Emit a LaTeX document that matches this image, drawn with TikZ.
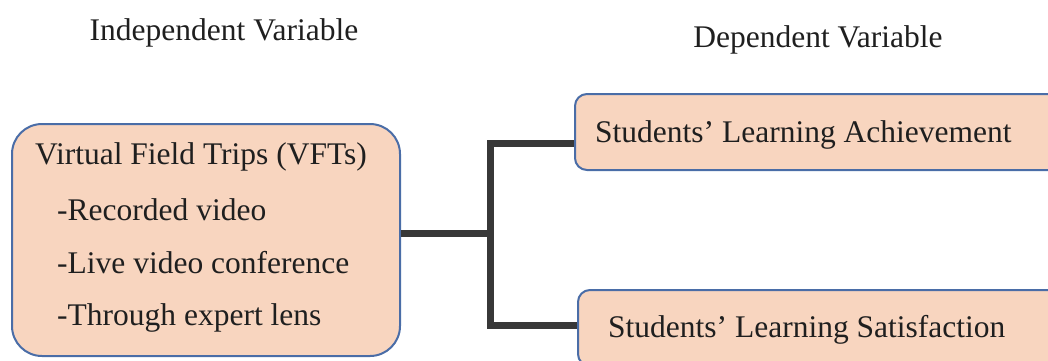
\documentclass[tikz,border=0pt]{standalone}
\usepackage{fontspec}
\setmainfont{Liberation Serif}
\newfontfamily\diagfont{Liberation Serif}
\definecolor{boxfill}{HTML}{F8D5BF}
\definecolor{boxline}{HTML}{4A6DA7}
\definecolor{linkgray}{HTML}{383838}
\begin{document}
\begin{tikzpicture}[x=1pt,y=-1pt,
    varbox/.style={draw=boxline,line width=2pt,fill=boxfill,inner sep=0pt},
    link/.style={draw=linkgray,line width=7pt},
    lbl/.style={anchor=west,inner sep=0pt,text=black!88,font=\diagfont\fontsize{31.5}{36}\selectfont}]
\useasboundingbox (0,0) rectangle (1048,360);
\clip (0,0) rectangle (1048,360);
\node[lbl,anchor=center] (IVh) at (224,33) {Independent Variable};
\node[lbl,anchor=center] (DVh) at (818,40) {Dependent Variable};
\node[varbox,rounded corners=30pt,minimum width=388pt,minimum height=232pt] (IV) at (206,240) {};
\node[varbox,rounded corners=12pt,minimum width=490pt,minimum height=76pt] (DV1) at (820,132) {};
\node[varbox,rounded corners=12pt,minimum width=490pt,minimum height=76pt] (DV2) at (823,328) {};
\node[lbl] (IV0) at (35,157) {Virtual Field Trips (VFTs)};
\node[lbl] (IV1) at (57,210) {-Recorded video};
\node[lbl] (IV2) at (57,263) {-Live video conference};
\node[lbl] (IV3) at (57,318) {-Through expert lens};
\node[lbl] (DV1t) at (595,135) {Students’ Learning Achievement};
\node[lbl] (DV2t) at (608,330) {Students’ Learning Satisfaction};
\coordinate (J) at (490,233);
\coordinate (Jt) at (490,143);
\coordinate (Jb) at (490,325);
\draw[link] (IV.east |- J) -- (J);
\draw[link] (DV1.west |- Jt) -| (Jb) -- (DV2.west |- Jb);
\end{tikzpicture}
\end{document}
